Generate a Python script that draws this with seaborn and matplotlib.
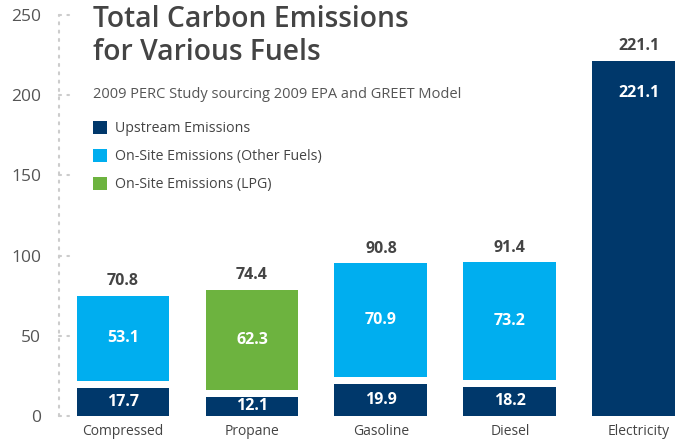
import matplotlib
matplotlib.use("Agg")
import matplotlib.pyplot as plt
import seaborn as sns
import pandas as pd
from matplotlib.patches import Patch

# ---- data ----
categories = ["Compressed", "Propane", "Gasoline", "Diesel", "Electricity"]
upstream = [17.7, 12.1, 19.9, 18.2, 221.1]
onsite = [53.1, 62.3, 70.9, 73.2, 0.0]
totals = [70.8, 74.4, 90.8, 91.4, 221.1]
onsite_type = ["Other", "LPG", "Other", "Other", "None"]
y_ticks = [0, 50, 100, 150, 200, 250]
legend_labels = ["Upstream Emissions", "On-Site Emissions (Other Fuels)", "On-Site Emissions (LPG)"]
title = "Total Carbon Emissions\nfor Various Fuels"
subtitle = "2009 PERC Study sourcing 2009 EPA and GREET Model"

NAVY = "#00386b"
SKY = "#00aeef"
GREEN = "#6db33f"
DOT = "#cccccc"
GAP = 4.3      # white gap between stacked segments (data units)
W = 0.72

sns.set_theme(style="white")
plt.rcParams["font.family"] = ["Open Sans", "DejaVu Sans"]

FW, FH = 675, 442
fig = plt.figure(figsize=(FW / 100, FH / 100), dpi=100)
ax = fig.add_axes([59 / FW, 26 / FH, 1 - 59 / FW, (416 - 15) / FH])

df = pd.DataFrame(dict(cat=categories, up=upstream, on=onsite, total=totals, kind=onsite_type))
df["stack_top"] = [u + GAP + o if o > 0 else 0.0 for u, o in zip(upstream, onsite)]
df["stack_base"] = [u + GAP if o > 0 else 0.0 for u, o in zip(upstream, onsite)]
on_colors = {c: (GREEN if k == "LPG" else SKY) for c, k in zip(categories, onsite_type)}

common = dict(x="cat", order=categories, width=W, errorbar=None, saturation=1,
              linewidth=0, ax=ax)
sns.barplot(data=df, y="stack_top", hue="cat", palette=on_colors, legend=False, **common)
sns.barplot(data=df, y="stack_base", color="white", **common)
sns.barplot(data=df, y="up", color=NAVY, **common)

# labels
for i, row in df.iterrows():
    top = row["stack_top"] if row["on"] > 0 else row["up"]
    ax.annotate(f"{row['total']:.1f}", xy=(i, top), xytext=(0, 5), textcoords="offset points",
                ha="center", va="bottom", fontsize=11.5, fontweight="bold", color="#444444")
    if row["on"] > 0:
        ax.text(i, row["stack_base"] + row["on"] / 2, f"{row['on']:.1f}", ha="center", va="center",
                fontsize=11.5, fontweight="bold", color="white")
        ax.text(i, row["up"] / 2, f"{row['up']:.1f}", ha="center", va="center",
                fontsize=11.5, fontweight="bold", color="white")
    else:
        ax.annotate(f"{row['up']:.1f}", xy=(i, row["up"]), xytext=(0, -23), textcoords="offset points",
                    ha="center", va="center", fontsize=11.5, fontweight="bold", color="white")

ax.set_xlim(-0.496, 4.28)
ax.set_ylim(0, 250)
ax.set_yticks(y_ticks)
ax.set_xlabel("")
ax.set_ylabel("")
for s in ["top", "right", "bottom"]:
    ax.spines[s].set_visible(False)
ax.spines["left"].set_color(DOT)
ax.spines["left"].set_linewidth(1.5)
ax.spines["left"].set_linestyle((0, (1, 3)))
ax.spines["left"].set_capstyle("round")
for t in y_ticks:
    ax.axhline(t, xmin=0, xmax=0.016, color=DOT, lw=1.5, ls=(0, (1, 3)), clip_on=False,
               dash_capstyle="round")
ax.tick_params(axis="y", length=0, pad=13, labelsize=12.5, labelcolor="#555555")
ax.tick_params(axis="x", length=0, pad=6, labelsize=10, labelcolor="#444444")

fig.text(93 / FW, 1 - 5 / FH, title, ha="left", va="top", fontsize=20.3, fontweight="semibold",
         color="#444444", linespacing=1.18)
fig.text(93 / FW, 1 - 95 / FH, subtitle, ha="left", va="center", fontsize=10.5, color="#555555")

handles = [Patch(facecolor=c, edgecolor="none") for c in (NAVY, SKY, GREEN)]
fig.legend(handles=handles, labels=legend_labels, loc="upper left",
           bbox_to_anchor=(93 / FW, 1 - 121 / FH), frameon=False, fontsize=10.2,
           handlelength=1.0, handleheight=1.0, labelspacing=0.9, handletextpad=0.55,
           borderpad=0, borderaxespad=0, labelcolor="#444444")

fig.savefig("out.png", dpi=100)
